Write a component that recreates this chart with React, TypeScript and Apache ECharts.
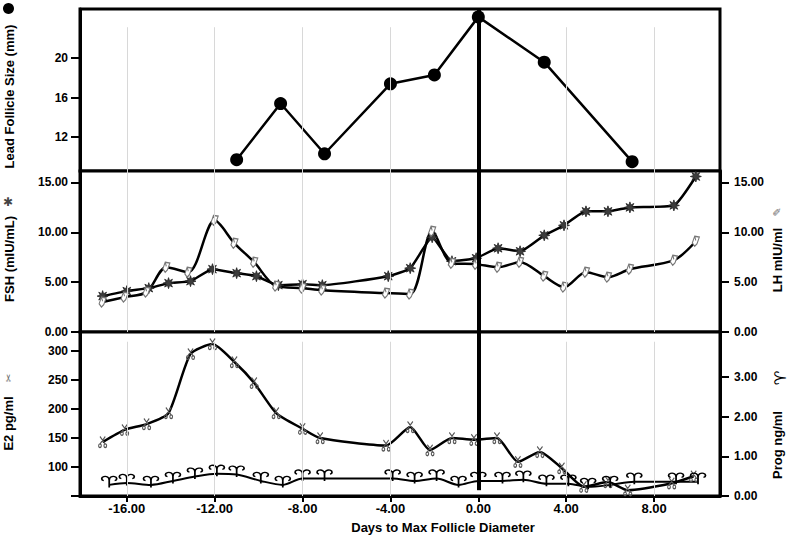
import React, { useEffect, useRef } from "react";
import * as echarts from "echarts";

// ---------- data ----------
const X_MIN = -18.13;
const X_MAX = 11.0;
const X_TICKS = [-16, -12, -8, -4, 0, 4, 8];
const GRID_DAYS = [-16, -12, -8, -4, 4, 8];

const follicleDays = [-11, -9, -7, -4, -2, 0, 3, 7];
const follicleSize = [9.7, 15.4, 10.3, 17.4, 18.3, 24.2, 19.6, 9.5];

const fshDays = [-17.1, -16.0, -15.0, -14.1, -13.1, -12.1, -11.0, -10.1, -9.1, -8.0, -7.1, -4.1, -3.1, -2.1, -1.2, -0.1, 0.9, 1.9, 3.0, 3.9, 4.9, 5.9, 6.9, 8.9, 9.9];
const fshVals = [3.6, 4.1, 4.4, 4.9, 5.1, 6.3, 5.9, 5.6, 4.7, 4.8, 4.7, 5.6, 6.4, 9.5, 7.1, 7.4, 8.4, 8.1, 9.7, 10.7, 12.1, 12.1, 12.5, 12.7, 15.6];

const lhDays = [-17.1, -16.1, -15.1, -14.2, -13.2, -12.0, -11.1, -10.2, -9.2, -8.0, -7.1, -4.2, -3.1, -2.1, -1.2, -0.1, 0.9, 1.9, 3.0, 3.9, 4.9, 5.9, 6.9, 8.9, 9.9];
const lhVals = [3.0, 3.5, 4.0, 6.5, 6.0, 11.2, 8.9, 7.0, 4.6, 4.4, 4.2, 3.9, 3.8, 10.1, 6.9, 6.8, 6.5, 7.0, 5.6, 4.5, 6.0, 5.5, 6.3, 7.2, 9.1];

const e2Days = [-17.1, -16.1, -15.1, -14.1, -13.1, -12.1, -11.1, -10.2, -9.2, -8.0, -7.2, -4.2, -3.1, -2.2, -1.2, -0.2, 0.85, 1.8, 2.8, 3.8, 4.8, 5.9, 6.8, 8.8, 9.8];
const e2Vals = [143, 164, 174, 193, 295, 312, 281, 245, 193, 166, 150, 137, 169, 129, 150, 147, 150, 109, 126, 98, 66, 74, 60, 72, 84];

const progDays = [-16.8, -16.0, -14.9, -13.9, -12.9, -11.9, -11.0, -9.9, -8.9, -8.0, -7.0, -3.9, -2.9, -1.9, -0.9, 0.0, 1.1, 2.05, 3.1, 4.1, 5.0, 6.0, 7.1, 9.0, 10.0];
const progVals = [0.28, 0.33, 0.28, 0.38, 0.49, 0.56, 0.54, 0.38, 0.28, 0.44, 0.44, 0.44, 0.38, 0.44, 0.28, 0.38, 0.38, 0.41, 0.31, 0.31, 0.23, 0.28, 0.36, 0.36, 0.36];

const follicleTicks = [12, 16, 20];
const hormoneTicks = [0, 5, 10, 15];
const e2Ticks = [50, 100, 150, 200, 250, 300];
const e2Labels = [100, 150, 200, 250, 300];
const progTicks = [0, 1, 2, 3];

// ---------- symbols ----------
function starPath(): string {
  const pts: string[] = [];
  for (let i = 0; i < 16; i++) {
    const r = i % 2 === 0 ? 5 : 2.3;
    const a = (Math.PI * i) / 8;
    pts.push(`${(5 + r * Math.sin(a)).toFixed(2)},${(5 - r * Math.cos(a)).toFixed(2)}`);
  }
  return "path://M" + pts.join(" L") + " Z";
}
const STAR = starPath();
const LH_SYM = "path://M3,0 L7,1 L5,9 L3,12 L1,8 Z M3,0 L4,5";
const E2_SYM = "path://M2,0 L8,8 M8,0 L2,8 M2,8 C0,8 0,12 2,12 C4,12 4,8 2,8 M8,8 C6,8 6,12 8,12 C10,12 10,8 8,8";
const RAM_SYM = "path://M10,16 L10,6 C10,2 7,0 4,1 C1,2 1,6 4,6.5 M10,6 C10,2 13,0 16,1 C19,2 19,6 16,6.5";

const FONT = '"Liberation Sans", Arial, sans-serif';
const zip = (xs: number[], ys: number[]) => xs.map((x, i) => [x, ys[i]]);

export default function App() {
  const ref = useRef<HTMLDivElement>(null);
  useEffect(() => {
    if (!ref.current) return;
    const chart = echarts.init(ref.current, null, { renderer: "svg" });

    const gridCommon = { left: 80, right: 80, show: true, borderColor: "#000", borderWidth: 3, backgroundColor: "#fff" };
    const xAxes = [0, 1, 2].map((i) => ({
      type: "value",
      gridIndex: i,
      min: X_MIN,
      max: X_MAX,
      show: i === 2,
      splitLine: { show: false },
      axisLine: { show: true, lineStyle: { color: "#000", width: 3 } },
      axisTick: { show: true, length: 6, customValues: X_TICKS, lineStyle: { color: "#000", width: 2 } },
      axisLabel: {
        customValues: X_TICKS,
        formatter: (v: number) => v.toFixed(2),
        fontSize: 13,
        fontWeight: "bold",
        fontFamily: FONT,
        color: "#000",
        margin: 6,
      },
    }));

    const yBase = (grid: number, pos: string, min: number, max: number, ticks: number[], labels: number[], fmt: (v: number) => string) => ({
      type: "value",
      gridIndex: grid,
      position: pos,
      min,
      max,
      splitLine: { show: false },
      axisLine: { show: true, onZero: false, lineStyle: { color: "#000", width: 3 } },
      axisTick: { show: true, length: 9, customValues: ticks, lineStyle: { color: "#000", width: 2 } },
      axisLabel: {
        customValues: labels,
        formatter: fmt,
        fontSize: 12,
        fontWeight: "bold",
        fontFamily: FONT,
        color: "#000",
        margin: pos === "left" ? 12 : 14,
      },
    });
    const f2 = (v: number) => v.toFixed(2);

    const gridLineStyle = { color: "#d8d8d8", width: 1, type: "solid" };
    const zeroLineStyle = { color: "#000", width: 4, type: "solid" };

    const option: any = {
      animation: false,
      backgroundColor: "#fff",
      grid: [
        { ...gridCommon, top: 9, height: 162 },
        { ...gridCommon, top: 171, height: 161 },
        { ...gridCommon, top: 332, height: 164 },
      ],
      xAxis: xAxes,
      yAxis: [
        yBase(0, "left", 8.55, 25, follicleTicks, follicleTicks, (v) => String(v)),
        yBase(1, "left", 0, 16.15, hormoneTicks, hormoneTicks, f2),
        yBase(1, "right", 0, 16.15, hormoneTicks, hormoneTicks, f2),
        yBase(2, "left", 50, 332.8, e2Ticks, e2Labels, (v) => String(v)),
        yBase(2, "right", 0, 4.13, progTicks, progTicks, f2),
      ],
      series: [
        // grid lines + zero line (panel 1)
        {
          type: "line", xAxisIndex: 0, yAxisIndex: 0, data: [], z: 1, silent: true,
          markLine: {
            silent: true, symbol: "none", label: { show: false }, animation: false,
            data: [
              ...GRID_DAYS.map((d) => [{ coord: [d, 23.15], lineStyle: gridLineStyle }, { coord: [d, 8.55] }]),
              { xAxis: 0, lineStyle: zeroLineStyle },
            ],
          },
        },
        {
          type: "line", xAxisIndex: 1, yAxisIndex: 1, data: [], z: 1, silent: true,
          markLine: {
            silent: true, symbol: "none", label: { show: false }, animation: false,
            data: [
              ...GRID_DAYS.map((d) => ({ xAxis: d, lineStyle: gridLineStyle })),
              { xAxis: 0, lineStyle: zeroLineStyle },
            ],
          },
        },
        {
          type: "line", xAxisIndex: 2, yAxisIndex: 3, data: [], z: 1, silent: true,
          markLine: {
            silent: true, symbol: "none", label: { show: false }, animation: false,
            data: [
              ...GRID_DAYS.map((d) => [{ coord: [d, 316], lineStyle: gridLineStyle }, { coord: [d, 50] }]),
              [{ coord: [0, 332.8], lineStyle: zeroLineStyle }, { coord: [0, 60] }],
            ],
          },
        },
        {
          name: "Follicle", type: "line", xAxisIndex: 0, yAxisIndex: 0, z: 3,
          data: zip(follicleDays, follicleSize),
          symbol: "circle", symbolSize: 13,
          itemStyle: { color: "#000" },
          lineStyle: { color: "#000", width: 2.5 },
        },
        {
          name: "FSH", type: "line", xAxisIndex: 1, yAxisIndex: 1, z: 3,
          data: zip(fshDays, fshVals), smooth: 0.15,
          symbol: STAR, symbolSize: 11,
          itemStyle: { color: "#3c3c3c", borderColor: "#222", borderWidth: 0.8 },
          lineStyle: { color: "#000", width: 2.5 },
        },
        {
          name: "LH", type: "line", xAxisIndex: 1, yAxisIndex: 2, z: 3,
          data: zip(lhDays, lhVals), smooth: 0.3,
          symbol: LH_SYM, symbolSize: [7, 10],
          itemStyle: { color: "#fff", borderColor: "#777", borderWidth: 1.2 },
          lineStyle: { color: "#000", width: 2.5 },
        },
        {
          name: "E2", type: "line", xAxisIndex: 2, yAxisIndex: 3, z: 3,
          data: zip(e2Days, e2Vals), smooth: 0.2,
          symbol: E2_SYM, symbolSize: [8, 11],
          itemStyle: { color: "rgba(0,0,0,0)", borderColor: "#555", borderWidth: 1.2 },
          lineStyle: { color: "#000", width: 2.5 },
        },
        {
          name: "Prog", type: "line", xAxisIndex: 2, yAxisIndex: 4, z: 3,
          data: zip(progDays, progVals), smooth: 0.3,
          symbol: RAM_SYM, symbolSize: [15, 11], symbolOffset: [0, -3],
          itemStyle: { color: "rgba(0,0,0,0)", borderColor: "#000", borderWidth: 1.5 },
          lineStyle: { color: "#000", width: 2 },
        },
      ],
      graphic: [
        { type: "circle", shape: { cx: 8.5, cy: 8.5, r: 5.5 }, style: { fill: "#000" } },
        { type: "text", x: 9.5, y: 96.5, rotation: Math.PI / 2, style: { text: "Lead Follicle Size (mm)", font: `bold 13px ${FONT}`, fill: "#000", align: "center", verticalAlign: "middle" } },
        { type: "text", x: 9, y: 259, rotation: Math.PI / 2, style: { text: "FSH (mIU/mL)", font: `bold 13px ${FONT}`, fill: "#000", align: "center", verticalAlign: "middle" } },
        { type: "text", x: 8, y: 202, style: { text: "✱", font: '12px "DejaVu Sans"', fill: "#444", align: "center", verticalAlign: "middle" } },
        { type: "text", x: 777, y: 260, rotation: Math.PI / 2, style: { text: "LH mIU/ml", font: `bold 13px ${FONT}`, fill: "#000", align: "center", verticalAlign: "middle" } },
        { type: "text", x: 777, y: 212, rotation: Math.PI / 2, style: { text: "✎", font: '11px "DejaVu Sans"', fill: "#777", align: "center", verticalAlign: "middle" } },
        { type: "text", x: 8.5, y: 423.5, rotation: Math.PI / 2, style: { text: "E2 pg/ml", font: `bold 13px ${FONT}`, fill: "#000", align: "center", verticalAlign: "middle" } },
        { type: "text", x: 8, y: 378, rotation: Math.PI / 2, style: { text: "✂", font: '10px "DejaVu Sans"', fill: "#666", align: "center", verticalAlign: "middle" } },
        { type: "text", x: 777, y: 445, rotation: Math.PI / 2, style: { text: "Prog ng/ml", font: `bold 13px ${FONT}`, fill: "#000", align: "center", verticalAlign: "middle" } },
        { type: "text", x: 780, y: 378, rotation: Math.PI / 2, style: { text: "♈", font: '16px "DejaVu Sans"', fill: "#000", align: "center", verticalAlign: "middle" } },
        { type: "text", x: 443, y: 527, style: { text: "Days to Max Follicle Diameter", font: `bold 13px ${FONT}`, fill: "#000", align: "center", verticalAlign: "middle" } },
      ],
    };

    chart.setOption(option);
    return () => chart.dispose();
  }, []);

  return <div ref={ref} style={{ position: "fixed", left: 0, top: 0, width: 800, height: 537, background: "#fff" }} />;
}
